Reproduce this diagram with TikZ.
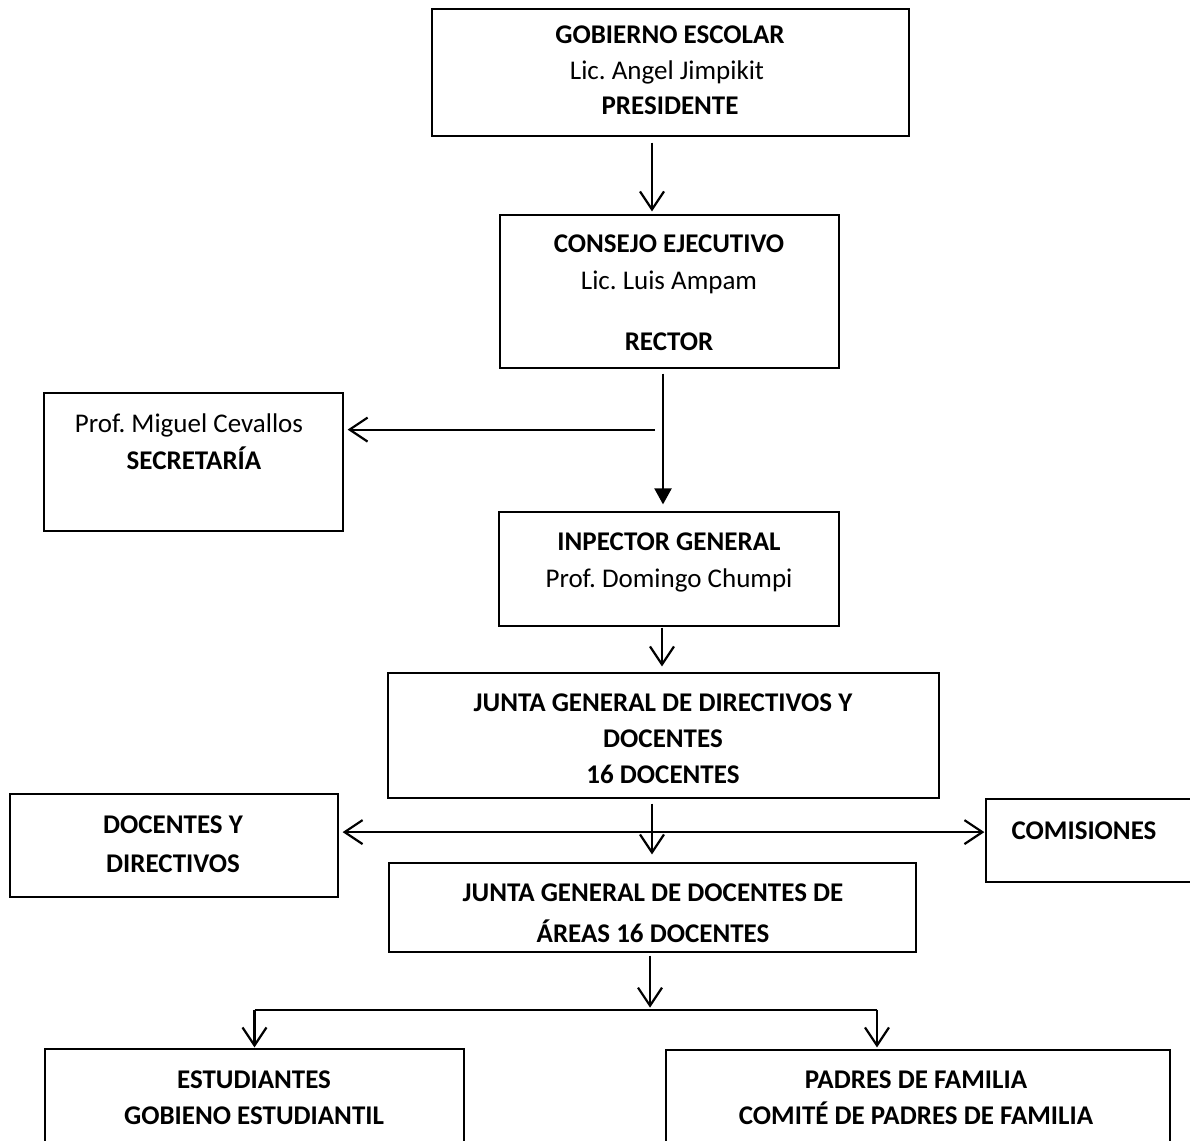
\documentclass[tikz,border=0pt]{standalone}
\usepackage{fontspec}
\setmainfont{Carlito}
\usetikzlibrary{arrows.meta}
\frenchspacing
\begin{document}
\begin{tikzpicture}[x=1pt,y=-1pt,
  box/.style={draw, line width=1.2pt, inner sep=0pt, rectangle},
  txt/.style={anchor=base, inner sep=0pt, font=\fontsize{27}{32}\selectfont},
  btxt/.style={txt, font=\fontsize{27}{32}\selectfont\bfseries},
  arr/.style={line width=2.2pt, -{Straight Barb[length=18pt,width=24pt,line width=2.2pt]}},
  farr/.style={line width=2.2pt, -{Triangle[length=16pt,width=17pt]}},
  darr/.style={line width=2.2pt, {Straight Barb[length=18pt,width=24pt,line width=2.2pt]}-{Straight Barb[length=18pt,width=24pt,line width=2.2pt]}},
  plain/.style={line width=2.2pt}
]
\useasboundingbox (0,0) rectangle (1190,1140);
\clip (0,0) rectangle (1190,1140);
\fill[white] (0,0) rectangle (1190,1140);

% boxes
\node[box, minimum width=477pt, minimum height=127pt] (gob) at (670.5,72.5) {};
\node[box, minimum width=339pt, minimum height=153pt] (con) at (669.5,291.5) {};
\node[box, minimum width=299pt, minimum height=138pt] (sec) at (193.5,462) {};
\node[box, minimum width=340pt, minimum height=114pt] (insp) at (669,569) {};
\node[box, minimum width=551pt, minimum height=125pt] (junta) at (663.5,735.5) {};
\node[box, minimum width=328pt, minimum height=103pt] (doc) at (174,845.5) {};
\node[box, minimum width=240pt, minimum height=83pt] (com) at (1106,840.5) {};
\node[box, minimum width=527pt, minimum height=89pt] (areas) at (652.5,907.5) {};
\node[box, minimum width=419pt, minimum height=120pt] (est) at (254.5,1109) {};
\node[box, minimum width=504pt, minimum height=120pt] (pad) at (918,1110) {};

% texts
\node[btxt] (gob1) at (670,44) {GOBIERNO ESCOLAR};
\node[txt]  (gob2) at (667,79) {Lic. Angel Jimpikit};
\node[btxt] (gob3) at (670,114) {PRESIDENTE};

\node[btxt] (con1) at (669,252) {CONSEJO EJECUTIVO};
\node[txt]  (con2) at (669,289) {Lic. Luis Ampam};
\node[btxt] (con3) at (669,350) {RECTOR};

\node[txt]  (sec1) at (189,432) {Prof. Miguel Cevallos};
\node[btxt] (sec2) at (194,469) {SECRETARÍA};

\node[btxt] (insp1) at (669,550) {INPECTOR GENERAL};
\node[txt]  (insp2) at (669,587) {Prof. Domingo Chumpi};

\node[btxt] (jun1) at (663,711) {JUNTA GENERAL DE DIRECTIVOS Y};
\node[btxt] (jun2) at (663,747) {DOCENTES};
\node[btxt] (jun3) at (663,783) {16 DOCENTES};

\node[btxt] (doc1) at (173,833) {DOCENTES Y};
\node[btxt] (doc2) at (173,872) {DIRECTIVOS};

\node[btxt] (com1) at (1084,839) {COMISIONES};

\node[btxt] (are1) at (653,901) {JUNTA GENERAL DE DOCENTES DE};
\node[btxt] (are2) at (653,942) {ÁREAS 16 DOCENTES};

\node[btxt] (est1) at (254,1088) {ESTUDIANTES};
\node[btxt] (est2) at (254,1124) {GOBIENO ESTUDIANTIL};

\node[btxt] (pad1) at (916,1088) {PADRES DE FAMILIA};
\node[btxt] (pad2) at (916,1124) {COMITÉ DE PADRES DE FAMILIA};

% connectors
\draw[arr] ([xshift=-18.5pt,yshift=-6pt]gob.south) -- ([xshift=-17.5pt,yshift=3pt]con.north);
\draw[farr] ([xshift=-6.5pt,yshift=-5pt]con.south) -- ([xshift=-6pt,yshift=7pt]insp.north);
\coordinate (sb) at ([xshift=-14.5pt,yshift=-61pt]con.south);
\draw[arr] (sb) -- ([xshift=4pt]sec.east |- sb);
\draw[arr] ([xshift=-7pt,yshift=-1pt]insp.south) -- ([xshift=-1.5pt,yshift=6pt]junta.north);
\draw[arr] ([xshift=-11.5pt,yshift=-5pt]junta.south) -- ([xshift=-0.5pt,yshift=8pt]areas.north);
\coordinate (dm) at ([xshift=-11.5pt,yshift=-33.5pt]junta.south);
\draw[darr] ([xshift=4pt]doc.east |- dm) -- ([xshift=-1pt]com.west |- dm);
\coordinate (br) at ([xshift=-2.5pt,yshift=-57pt]areas.south);
\draw[arr] ([yshift=-3pt]areas.south -| br) -- ([yshift=2pt]br);
\coordinate (bl) at (est.north |- br);
\coordinate (brr) at ([xshift=-41pt]pad.north |- br);
\draw[plain] (bl) -- (brr);
\draw[arr] (bl) -- ([yshift=1pt]est.north);
\draw[arr] (brr) -- ([xshift=-41pt,yshift=2pt]pad.north);
\end{tikzpicture}
\end{document}
